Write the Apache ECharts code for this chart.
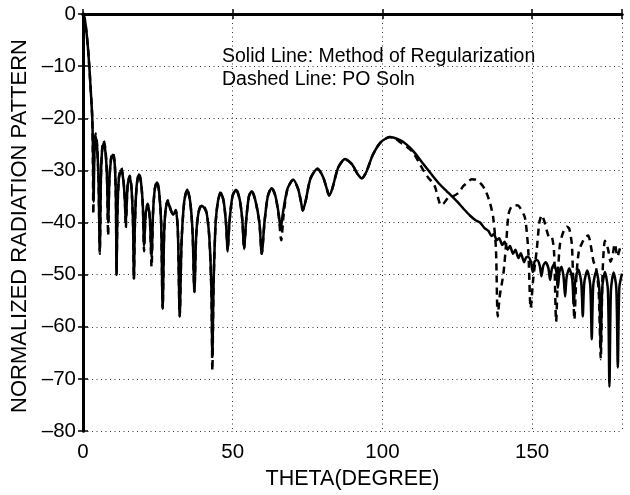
<!DOCTYPE html>
<html>
<head>
<meta charset="utf-8">
<title>Normalized radiation pattern</title>
<script src="https://cdn.jsdelivr.net/npm/echarts@6/dist/echarts.min.js"></script>
<style>
html, body { margin: 0; padding: 0; background: #fff; }
#chart { width: 630px; height: 495px; }
</style>
</head>
<body>
<div id="chart"></div>
<script>
// solid curve: method of regularization (theta in degree, level in dB)
var regTheta = [0, 0.6, 1.2, 1.7, 2.1, 2.6, 3.1, 3.35, 3.55, 3.8, 4.2, 4.7, 5.2, 5.6, 6.0, 6.4, 6.9, 7.5, 8.0, 8.4, 8.8, 9.4, 10.0, 10.6, 11.0, 11.2, 11.5, 12.0, 12.8, 13.5, 14.0, 14.3, 14.7, 15.0, 15.6, 16.2, 16.7, 17.0, 17.3, 17.9, 18.7, 19.4, 20.0, 20.4, 20.9, 21.6, 22.3, 22.9, 23.4, 24.0, 24.7, 25.4, 26.1, 26.6, 27.1, 27.6, 28.3, 29.2, 30.1, 31.0, 31.7, 32.3, 32.9, 33.8, 34.8, 35.8, 36.6, 37.2, 37.8, 38.6, 39.6, 40.5, 41.3, 42.2, 42.9, 43.2, 43.6, 44.3, 45.1, 46.0, 47.0, 47.8, 48.3, 48.9, 49.9, 51.1, 52.3, 53.2, 53.8, 54.5, 55.4, 56.3, 57.5, 58.9, 59.7, 60.6, 61.7, 63.0, 64.3, 65.4, 66.0, 66.8, 68.3, 70.2, 71.8, 72.8, 73.4, 74.3, 76.0, 78.3, 80.2, 81.4, 82.2, 83.2, 85.2, 87.5, 89.8, 91.8, 93.1, 94.6, 96.8, 99.4, 102.5, 105.9, 108.0, 110.3, 113.0, 117.0, 119.2, 121.5, 124.8, 127.0, 129.3, 131.0, 132.6, 134.0, 135.4, 136.4, 137.2, 138.2, 139.0, 140.0, 140.8, 141.8, 142.6, 143.6, 144.4, 145.4, 146.2, 147.3, 148.1, 148.7, 149.6, 150.2, 150.8, 151.6, 152.5, 153.1, 153.7, 154.5, 155.4, 156.0, 156.6, 157.3, 158.1, 158.6, 159.1, 159.8, 160.5, 161.0, 161.5, 162.4, 163.4, 163.9, 164.4, 165.4, 166.4, 166.9, 167.4, 168.4, 169.4, 169.9, 170.4, 171.4, 172.4, 172.9, 173.4, 174.3, 175.3, 175.8, 176.3, 177.2, 178.1, 178.6, 179.1, 180];
var regDb = [0, -1.0, -3.7, -6.8, -10, -14.8, -20, -27, -36, -27, -23.5, -25.5, -32, -45.5, -31, -26, -24.8, -26.5, -31, -40, -32, -27.8, -27.0, -28.8, -36, -50, -38, -31.5, -29.9, -32, -36, -40.3, -35, -32.5, -31.3, -33.5, -40, -50.8, -41, -33, -30.8, -32.5, -37, -44.5, -38.5, -36.6, -39, -46.5, -38, -33.5, -32.3, -34, -40, -56.5, -42, -37.5, -35.9, -37.5, -38.5, -37.8, -42, -58, -44, -36, -33.7, -36, -42, -53.3, -42.5, -38, -36.8, -37.2, -38.2, -43, -53, -65.8, -52, -40, -35.8, -34.3, -36, -40.5, -45.5, -40, -35, -33.7, -35.5, -39.5, -45.1, -39.5, -35, -34.0, -35.6, -40, -46.0, -40, -35, -33.4, -35, -38.5, -41.3, -38, -33.5, -31.8, -33.5, -36, -37.7, -36, -31.5, -29.7, -31.3, -33.5, -34.8, -33.6, -29.5, -27.8, -28.8, -30.8, -31.5, -30.3, -27, -24.6, -23.6, -24.2, -25.0, -26.3, -28.3, -31.2, -32.7, -34.0, -35.9, -37.3, -38.7, -39.5, -40.0, -41.0, -41.6, -42.6, -42.2, -43.4, -43.0, -44.3, -43.7, -45.2, -44.5, -46.0, -45.2, -46.8, -45.9, -47.6, -46.6, -46.6, -47.6, -49.5, -47.5, -47.2, -48.2, -50.3, -48.3, -47.6, -48.7, -51.0, -48.8, -48.0, -49.5, -52.5, -49.5, -48.5, -50.5, -54.2, -50.5, -48.8, -51, -56, -51, -49.0, -51.5, -58.0, -51.5, -49.2, -52, -62.4, -52, -49.3, -52.5, -64.3, -52.5, -49.5, -53, -71.5, -53, -49.6, -52.5, -67.8, -52.5, -49.8];

// dashed curve: PO solution
var poTheta = [0, 0.6, 1.2, 1.7, 2.1, 2.6, 3.1, 3.3, 3.45, 3.7, 4.2, 4.7, 5.2, 5.6, 6.0, 6.4, 6.9, 7.5, 8.0, 8.4, 8.8, 9.4, 10.0, 10.6, 11.0, 11.2, 11.5, 12.0, 12.8, 13.5, 14.0, 14.3, 14.7, 15.0, 15.6, 16.2, 16.7, 17.0, 17.3, 17.9, 18.7, 19.4, 20.0, 20.4, 20.9, 21.6, 22.3, 22.9, 23.4, 24.0, 24.7, 25.4, 26.1, 26.6, 27.1, 27.6, 28.3, 29.2, 30.1, 31.0, 31.7, 32.3, 32.9, 33.8, 34.8, 35.8, 36.6, 37.2, 37.8, 38.6, 39.6, 40.5, 41.3, 42.2, 42.9, 43.2, 43.6, 44.3, 45.1, 46.0, 47.0, 47.8, 48.3, 48.9, 49.9, 51.1, 52.3, 53.2, 53.8, 54.5, 55.4, 56.3, 57.5, 58.9, 59.7, 60.6, 61.7, 63.0, 64.3, 65.4, 66.2, 67.0, 68.3, 70.2, 71.8, 72.8, 73.4, 74.3, 76.0, 78.3, 80.2, 81.4, 82.2, 83.2, 85.2, 87.5, 89.8, 91.8, 93.1, 94.6, 96.8, 99.4, 102.5, 104.5, 105.9, 108.0, 110.3, 112.6, 114.0, 115.3, 116.5, 117.6, 118.6, 119.5, 120.5, 122.0, 123.5, 125.4, 127.0, 128.2, 129.8, 131.3, 132.8, 134.3, 135.9, 137.0, 137.9, 138.5, 139.2, 140.4, 141.3, 142.1, 143.0, 143.7, 145.0, 146.0, 147.6, 148.7, 149.5, 150.4, 151.5, 152.4, 153.2, 154.2, 154.9, 155.8, 156.5, 157.3, 158.0, 158.6, 159.3, 160.6, 161.6, 162.4, 163.3, 164.1, 164.8, 165.6, 166.6, 167.5, 168.7, 169.6, 170.5, 171.3, 172.2, 172.9, 173.5, 174.3, 175.3, 176.2, 176.8, 177.6, 178.5, 179.3, 180];
var poDb = [0, -1.0, -3.7, -6.8, -10, -14.8, -20, -28, -38.4, -28, -22.9, -25, -32, -46, -31, -26, -24.3, -26, -31, -42.5, -32, -27.5, -26.6, -28.5, -36, -50, -38, -31.2, -29.5, -31.8, -36, -41, -35, -32.3, -31.0, -33.2, -40, -50.8, -41, -33, -30.5, -32.3, -37, -45.5, -38.5, -36.4, -39, -48.5, -38, -33.5, -32.1, -34, -40, -56.5, -42, -37.5, -35.7, -37.3, -38.5, -37.6, -42, -58, -44, -36, -33.6, -36, -42, -53.3, -42.5, -38, -36.6, -37.0, -38.2, -43, -54, -68.4, -52, -40, -35.8, -34.2, -36, -40.5, -45.5, -40, -35, -33.6, -35.5, -39.5, -45.1, -39.5, -35, -33.9, -35.6, -40, -46.0, -40, -35, -33.3, -35, -39, -43.4, -38.5, -33.5, -31.8, -33.5, -36, -37.7, -36, -31.5, -29.7, -31.3, -33.5, -34.8, -33.6, -29.5, -27.8, -28.8, -30.8, -31.5, -30.3, -27, -24.6, -23.6, -24.0, -24.6, -25.4, -26.6, -28.9, -30.3, -31.4, -32.2, -33.2, -35.3, -36.7, -36.3, -35.2, -35.0, -34.3, -33.0, -32.4, -31.7, -31.8, -32.5, -33.7, -36.2, -39.1, -45, -58.0, -54, -49.8, -44.1, -38.4, -37.0, -36.8, -36.7, -37.2, -39.1, -45.4, -56.4, -50.5, -45.4, -40, -38.6, -40.0, -41.6, -42.9, -42.8, -45.5, -59.0, -50, -44.1, -41.5, -40.8, -41.2, -44.5, -58.6, -50, -45.5, -44.0, -43.0, -42.5, -44.5, -47.5, -48.5, -53, -66.2, -50, -43.5, -45.0, -47.5, -46.5, -44.1, -46.5, -45, -44.1];

var xTicks = [0, 50, 100, 150];
var yTicks = [0, -10, -20, -30, -40, -50, -60, -70, -80];
var notes = ['Solid Line: Method of Regularization', 'Dashed Line: PO Soln'];
var xTitle = 'THETA(DEGREE)';
var yTitle = 'NORMALIZED RADIATION PATTERN';

var font = 'Liberation Sans, Arial, Helvetica, sans-serif';

function pairs(xs, ys) {
    var out = [];
    for (var i = 0; i < xs.length; i++) {
        out.push([xs[i], ys[i]]);
    }
    return out;
}

// MATLAB style minus sign on the dB labels
function dbLabel(v) {
    if (yTicks.indexOf(v) < 0) return '';
    return v < 0 ? '\u2013' + (-v) : '' + v;
}

function thetaLabel(v) {
    return xTicks.indexOf(v) < 0 ? '' : '' + v;
}

var myChart = echarts.init(document.getElementById('chart'));

var frame = { show: true, lineStyle: { color: '#000', width: 3 } };
var dots = { show: true, lineStyle: { color: '#333', width: 1, type: [1, 3.5] } };
var inTicks = { show: true, inside: true, length: 5, lineStyle: { color: '#000', width: 1.5 } };

var option = {
    animation: false,
    backgroundColor: '#fff',
    grid: { left: 83, right: 8, top: 14, bottom: 59 },
    xAxis: [
        {
            type: 'value', min: 0, max: 180, interval: 50,
            name: xTitle, nameLocation: 'middle', nameGap: 35,
            nameTextStyle: { fontFamily: font, fontSize: 21.5, color: '#000' },
            axisLine: frame, axisTick: inTicks, splitLine: dots,
            axisLabel: { formatter: thetaLabel, margin: 11, fontFamily: font, fontSize: 20.5, color: '#000' }
        },
        {
            type: 'value', min: 0, max: 180, interval: 50, position: 'top',
            axisLine: frame, axisTick: inTicks, splitLine: { show: false },
            axisLabel: { show: false }
        }
    ],
    yAxis: [
        {
            type: 'value', min: -80, max: 0, interval: 10,
            axisLine: frame, axisTick: inTicks, splitLine: dots,
            axisLabel: { formatter: dbLabel, margin: 7, fontFamily: font, fontSize: 20.5, color: '#000' }
        },
        {
            type: 'value', min: -80, max: 0, interval: 10, position: 'right',
            axisLine: frame, axisTick: inTicks, splitLine: { show: false },
            axisLabel: { show: false }
        }
    ],
    graphic: [
        // y axis title, placed by hand like the original figure
        { type: 'text', x: 20, y: 226, rotation: Math.PI / 2,
          style: { x: 0, y: 0, text: yTitle, align: 'center', verticalAlign: 'middle', font: '22px ' + font, fill: '#000' } },
        { type: 'text', style: { x: 222, y: 57, text: notes[0], verticalAlign: 'middle', font: '19.5px ' + font, fill: '#000' } },
        { type: 'text', style: { x: 222, y: 80, text: notes[1], verticalAlign: 'middle', font: '19.5px ' + font, fill: '#000' } }
    ],
    series: [
        {
            name: 'PO Soln', type: 'line', data: pairs(poTheta, poDb),
            showSymbol: false, smooth: 0.25, clip: true,
            lineStyle: { color: '#000', width: 2.5, type: [7, 5] }
        },
        {
            name: 'Method of Regularization', type: 'line', data: pairs(regTheta, regDb),
            showSymbol: false, smooth: 0.25, clip: true,
            lineStyle: { color: '#000', width: 2.5 }
        }
    ]
};

myChart.setOption(option);
</script>
</body>
</html>
